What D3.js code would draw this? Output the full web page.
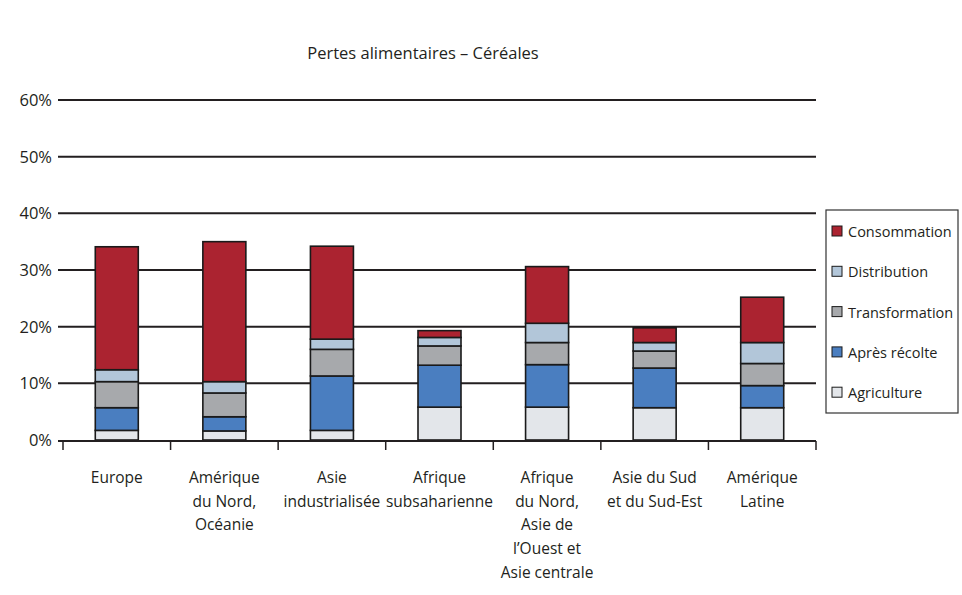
<!DOCTYPE html>
<html><head><meta charset="utf-8">
<script src="https://cdn.jsdelivr.net/npm/d3@7"></script>
<style>body{margin:0;background:#fff}svg{display:block}text{font-family:"Open Sans",sans-serif;fill:#231f20}</style>
</head><body><svg id="c" width="962" height="595"></svg>
<script>
const title = "Pertes alimentaires – Céréales";
const categories = [
  ["Europe"],
  ["Amérique","du Nord,","Océanie"],
  ["Asie","industrialisée"],
  ["Afrique","subsaharienne"],
  ["Afrique","du Nord,","Asie de","l’Ouest et","Asie centrale"],
  ["Asie du Sud","et du Sud-Est"],
  ["Amérique","Latine"]
];
const seriesNames = ["Agriculture","Après récolte","Transformation","Distribution","Consommation"];
const agriculture   = [1.7, 1.6, 1.7, 5.8, 5.8, 5.7, 5.7];
const apresRecolte  = [4.0, 2.5, 9.6, 7.4, 7.5, 7.0, 3.9];
const transformation= [4.6, 4.2, 4.7, 3.4, 3.9, 3.0, 3.9];
const distribution  = [2.1, 2.0, 1.8, 1.5, 3.4, 1.5, 3.7];
const consommation  = [21.7, 24.7, 16.4, 1.2, 10.0, 2.6, 8.0];
const yTicks = [0,10,20,30,40,50,60];
const colors = ["#e3e6ea","#4a7ec0","#a7a9ac","#b2c6d9","#ab2330"];

const seriesVals = [agriculture, apresRecolte, transformation, distribution, consommation];
const rows = categories.map((c,i)=>{const r={key:i}; seriesNames.forEach((s,j)=>r[s]=seriesVals[j][i]); return r;});
const stack = d3.stack().keys(seriesNames)(rows);

const svg = d3.select("#c");
const x = d3.scaleBand().domain(d3.range(categories.length)).range([63,816]).padding(0);
const y = d3.scaleLinear().domain([0,60]).range([440,100]);

svg.append("text").attr("x",423).attr("y",59).attr("text-anchor","middle").attr("font-size",16.5).text(title);

// grid
svg.append("g").selectAll("line").data(yTicks.filter(d=>d>0)).join("line")
  .attr("x1",58).attr("x2",816).attr("y1",d=>y(d)).attr("y2",d=>y(d))
  .attr("stroke","#231f20").attr("stroke-width",2);
svg.append("g").selectAll("text").data(yTicks).join("text")
  .attr("x",52).attr("y",d=>y(d)+6).attr("text-anchor","end").attr("font-size",16.5).text(d=>d+"%");

// bars
const bw = 43;
svg.append("g").selectAll("g").data(stack).join("g").attr("fill",(d,i)=>colors[i])
  .selectAll("rect").data(d=>d).join("rect")
  .attr("x",(d,i)=>x(i)+x.bandwidth()/2-bw/2).attr("width",bw)
  .attr("y",d=>y(d[1])).attr("height",d=>y(d[0])-y(d[1]))
  .attr("stroke","#1a1a1a").attr("stroke-width",1.6);

// x axis
const xa = svg.append("g");
xa.append("line").attr("x1",58).attr("x2",816).attr("y1",441).attr("y2",441).attr("stroke","#231f20").attr("stroke-width",2);
xa.selectAll("line.t").data(d3.range(categories.length+1)).join("line").attr("class","t")
  .attr("x1",i=>63+i*x.step()).attr("x2",i=>63+i*x.step()).attr("y1",441).attr("y2",450)
  .attr("stroke","#231f20").attr("stroke-width",1.5);
categories.forEach((lines,i)=>{
  const t = xa.append("text").attr("text-anchor","middle").attr("font-size",15.5);
  lines.forEach((l,k)=>t.append("tspan").attr("x",x(i)+x.bandwidth()/2).attr("y",483+k*23.7).text(l));
});

// legend
const lg = svg.append("g");
lg.append("rect").attr("x",826).attr("y",210).attr("width",132).attr("height",203).attr("fill","none").attr("stroke","#333").attr("stroke-width",1.2);
const order = [4,3,2,1,0];
order.forEach((si,k)=>{
  const yy = 231 + k*40.3;
  lg.append("rect").attr("x",832).attr("y",yy-5).attr("width",10).attr("height",10).attr("fill",colors[si]).attr("stroke","#1a1a1a").attr("stroke-width",1);
  lg.append("text").attr("x",848).attr("y",yy+6).attr("font-size",14.5).text(seriesNames[si]);
});
</script></body></html>
